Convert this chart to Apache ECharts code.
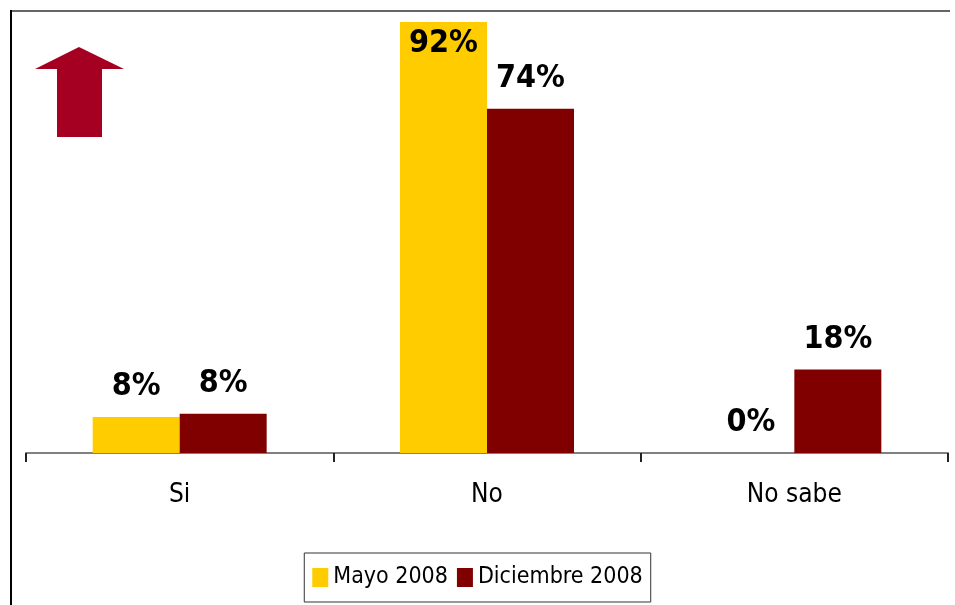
<!DOCTYPE html>
<html><head><meta charset="utf-8">
<script src="https://cdn.jsdelivr.net/npm/echarts@6/dist/echarts.min.js"></script>
<style>html,body{margin:0;padding:0;background:#fff}#c{width:955px;height:605px}</style>
</head><body><div id="c"></div>
<script>
const categories = ['Si', 'No', 'No sabe'];
const mayo2008 = [7.7, 92, 0];
const diciembre2008 = [8.4, 73.5, 17.8];
const seriesNames = ['Mayo 2008', 'Diciembre 2008'];
const FONT = "'Liberation Sans Narrow','Arial Narrow','DejaVu Sans Condensed',sans-serif";

const chart = echarts.init(document.getElementById('c'));
const lbl = {
  show: true, position: 'top', distance: 14,
  fontFamily: FONT, fontWeight: 'bold', fontSize: 32, color: '#000',
  formatter: p => Math.round(p.value) + '%'
};
chart.setOption({
  animation: false,
  grid: {left: 26, right: 7, top: 22, bottom: 152},
  xAxis: {
    type: 'category', data: categories,
    axisLine: {lineStyle: {color: '#808080', width: 2}},
    axisTick: {show: true, alignWithLabel: false, length: 9, lineStyle: {color: '#222', width: 2}},
    axisLabel: {fontFamily: FONT, fontSize: 26, color: '#000', margin: 29}
  },
  yAxis: {type: 'value', min: 0, max: 92, show: false, splitLine: {show: false}},
  legend: {
    data: seriesNames, bottom: 3, left: 'center',
    itemWidth: 16, itemHeight: 19, itemGap: 9,
    borderColor: '#333', borderWidth: 1, padding: [13, 8, 13, 8],
    textStyle: {fontFamily: FONT, fontSize: 23, color: '#000'},
    icon: 'rect'
  },
  series: [
    {name: seriesNames[0], type: 'bar', data: mayo2008.map((v, i) => i === 1 ? {value: v, label: {position: 'insideTop', distance: 6}} : v),
     barWidth: 87, barGap: '0%', itemStyle: {color: '#FFCC00'}, label: lbl},
    {name: seriesNames[1], type: 'bar', data: diciembre2008,
     barWidth: 87, barGap: '0%', itemStyle: {color: '#800000'}, label: lbl}
  ],
  graphic: [
    {type: 'line', shape: {x1: 11, y1: 11, x2: 950, y2: 11}, style: {stroke: '#666', lineWidth: 2}},
    {type: 'line', shape: {x1: 11, y1: 10, x2: 11, y2: 605}, style: {stroke: '#000', lineWidth: 2}},
    {type: 'polygon', shape: {points: [[79,47],[124,69],[102,69],[102,137],[57,137],[57,69],[35,69]]},
     style: {fill: '#A50021'}}
  ]
});
</script></body></html>
